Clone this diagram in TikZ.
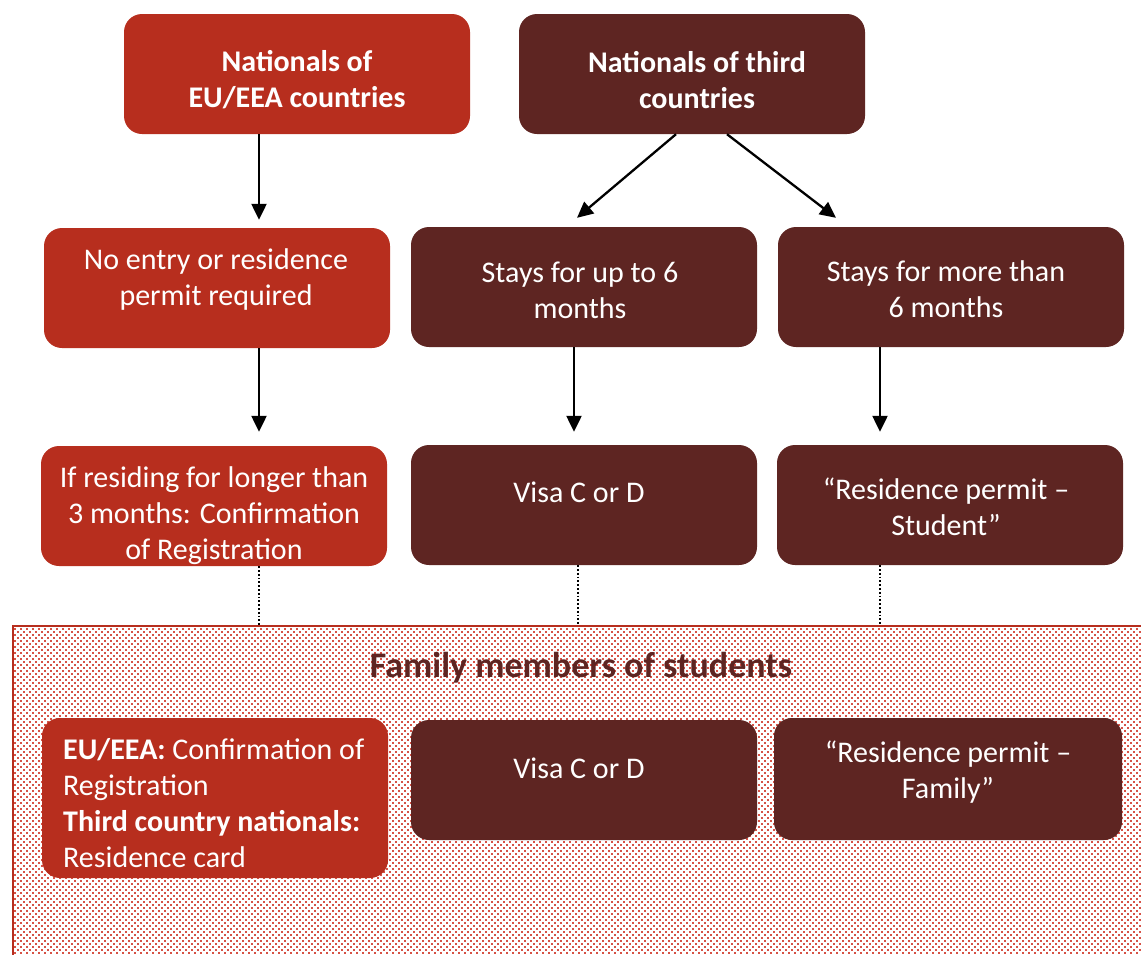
\documentclass[tikz,border=0pt]{standalone}
\usepackage{fontspec}
\setmainfont{Carlito}
\usetikzlibrary{arrows.meta}
\definecolor{redbox}{HTML}{B72E1E}
\definecolor{darkbox}{HTML}{5E2522}
\definecolor{dotred}{RGB}{214,82,70}
\begin{document}
\begin{tikzpicture}[x=1pt,y=-1pt,
  box/.style={rounded corners=18pt, minimum width=346pt, minimum height=120pt, inner sep=0pt},
  redb/.style={box, fill=redbox},
  darkb/.style={box, fill=darkbox},
  boxtext/.style={text=white, align=center, font=\fontsize{30}{36}\selectfont, inner sep=0pt},
  boldtext/.style={boxtext, font=\bfseries\fontsize{30}{36}\selectfont},
  dotrow/.style={dotred, line width=1.6pt, dash pattern=on 1.6pt off 4.4pt},
  arr/.style={-{Triangle[length=16pt,width=15pt]}, line width=2.3pt},
  dotline/.style={dotted, line width=1.8pt}]
\useasboundingbox (0,0) rectangle (1141,954);
\clip (0,0) rectangle (1141,954);
% family region: dotted fill
\foreach \i in {0,...,54}{
  \draw[dotrow] (14,{629+6*\i}) -- (1141,{629+6*\i});
  \draw[dotrow, dash phase=3pt] (14,{632+6*\i}) -- (1141,{632+6*\i});
}
\node[draw=redbox, line width=2pt, minimum width=1160pt, minimum height=360pt,
  anchor=north west, inner sep=0pt] (fam) at (12,625) {};
\node[font=\bfseries\fontsize{36}{40}\selectfont, text=darkbox] (famt) at (581,668) {Family members of students};
% top
\node[redb] (A) at (297,74) {};
\node[boldtext] (At) at (297,80) {Nationals of\\EU/EEA countries};
\node[darkb] (B) at (692,74) {};
\node[boldtext] (Bt) at (697,80) {Nationals of third\\countries};
% second row
\node[redb] (C) at (217,288) {};
\node[boxtext] (Ct) at (216,279) {No entry or residence\\permit required};
\node[darkb] (D) at (584,287) {};
\node[boxtext] (Dt) at (580,290) {Stays for up to 6\\months};
\node[darkb] (E) at (951,287) {};
\node[boxtext] (Et) at (946,289) {Stays for more than\\6 months};
% third row
\node[redb] (F) at (214,506) {};
\node[boxtext] (Ft) at (214,516) {If residing for longer than\\3 months: Confirmation\\of Registration};
\node[darkb] (G) at (584,505) {};
\node[boxtext] (Gt) at (579,492) {Visa C or D};
\node[darkb] (H) at (950,505) {};
\node[boxtext] (Ht) at (946,507) {``Residence permit --\\Student''};
% family boxes
\node[redb, minimum height=160pt] (I) at (215,798) {};
\node[boxtext, anchor=west, align=left] (It) at (63,803) {\textbf{EU/EEA:} Confirmation of\\Registration\\\textbf{Third country nationals:}\\Residence card};
\node[darkb] (J) at (584,780) {};
\node[boxtext] (Jt) at (579,768) {Visa C or D};
\node[darkb, minimum width=348pt, minimum height=122pt] (K) at (948,779) {};
\node[boxtext] (Kt) at (948,772) {``Residence permit --\\Family''};
% arrows
\draw[arr] ([xshift=-38pt]A.south) -- ([xshift=42pt,yshift=8pt]C.north);
\draw[arr] ([xshift=-16pt]B.south) -- ([xshift=-7pt,yshift=9pt]D.north);
\draw[arr] ([xshift=35pt]B.south) -- ([xshift=-115pt,yshift=9pt]E.north);
\draw[arr] ([xshift=42pt]C.south) -- ([xshift=45pt,yshift=14pt]F.north);
\draw[arr] ([xshift=-10pt]D.south) -- ([xshift=-10pt,yshift=13pt]G.north);
\draw[arr] ([xshift=-71pt]E.south) -- ([xshift=-70pt,yshift=13pt]H.north);
% dotted connectors
\draw[dotline] ([xshift=45pt]F.south) -- ([xshift=45pt]F.south |- fam.north);
\draw[dotline] ([xshift=-6pt]G.south) -- ([xshift=-6pt]G.south |- fam.north);
\draw[dotline] ([xshift=-70pt]H.south) -- ([xshift=-70pt]H.south |- fam.north);
\end{tikzpicture}
\end{document}
